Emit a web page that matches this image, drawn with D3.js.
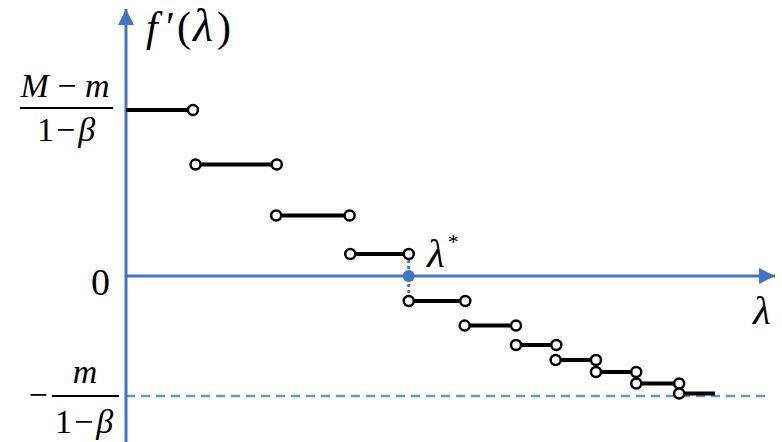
<!DOCTYPE html>
<html>
<head>
<meta charset="utf-8">
<script src="https://cdn.jsdelivr.net/npm/d3@7"></script>
<style>
  html, body { margin: 0; padding: 0; background: #fff; }
  svg { display: block; }
</style>
</head>
<body>
<svg id="chart" width="782" height="442"></svg>
<script>
// Piecewise-constant derivative f'(λ): each step has a start, an end and a level.
const stepStart = [0.00, 1.07, 2.31, 3.45, 4.35, 5.21, 6.00, 6.61, 7.23, 7.85, 8.51];
const stepEnd   = [1.03, 2.32, 3.44, 4.35, 5.22, 6.00, 6.62, 7.23, 7.85, 8.51, 9.06];
const stepLevel = [1.383, 0.929, 0.504, 0.183, -0.208, -0.413, -0.575, -0.700, -0.800, -0.896, -0.979];

// Reference levels on the vertical axis
const upperLevel = 1.383;   // (M − m)/(1 − β)
const lowerLevel = -1;      // −m/(1 − β)
const lambdaStar = 4.35;

const svg = d3.select("#chart");
const x = d3.scaleLinear().domain([0, 10]).range([126, 776]);
const y = d3.scaleLinear().domain([-1.4, 2.2]).range([444, 12]);

const axisBlue = "#4472C4";
const dashBlue = "#5B9BD5";
const serif = '"Liberation Serif"';

const defs = svg.append("defs");
defs.append("marker")
  .attr("id", "arrow")
  .attr("viewBox", "0 0 10 10")
  .attr("refX", 10).attr("refY", 5)
  .attr("markerUnits", "userSpaceOnUse")
  .attr("markerWidth", 17).attr("markerHeight", 16)
  .attr("orient", "auto")
  .append("path")
  .attr("d", "M0,0 L10,5 L0,10 Z")
  .attr("fill", axisBlue);

// dashed lower bound
svg.append("line")
  .attr("x1", x(0)).attr("x2", x(9.85))
  .attr("y1", y(lowerLevel)).attr("y2", y(lowerLevel))
  .attr("stroke", dashBlue).attr("stroke-width", 2.5)
  .attr("stroke-dasharray", "9,6");

// axes
svg.append("line")
  .attr("x1", x(0)).attr("x2", x(10) - 1)
  .attr("y1", y(0)).attr("y2", y(0))
  .attr("stroke", axisBlue).attr("stroke-width", 3)
  .attr("marker-end", "url(#arrow)");
svg.append("line")
  .attr("x1", x(0)).attr("x2", x(0))
  .attr("y1", y(-1.4)).attr("y2", y(2.2) - 3)
  .attr("stroke", axisBlue).attr("stroke-width", 3)
  .attr("marker-end", "url(#arrow)");

// dotted drop at λ*
svg.append("line")
  .attr("x1", x(lambdaStar)).attr("x2", x(lambdaStar))
  .attr("y1", y(stepLevel[3])).attr("y2", y(stepLevel[4]))
  .attr("stroke", axisBlue).attr("stroke-width", 3)
  .attr("stroke-dasharray", "3,3");

const steps = stepStart.map((s, i) => ({ s, e: stepEnd[i], v: stepLevel[i], i }));
const n = steps.length;

svg.append("g").selectAll("line").data(steps).join("line")
  .attr("x1", d => x(d.s)).attr("x2", d => x(d.e))
  .attr("y1", d => y(d.v)).attr("y2", d => y(d.v))
  .attr("stroke", "#000").attr("stroke-width", 4);

// open end points (none at the axis start nor at the final step's end)
const ends = [];
steps.forEach(d => {
  if (d.i > 0) ends.push({ px: d.s, v: d.v });
  if (d.i < n - 1) ends.push({ px: d.e, v: d.v });
});
svg.append("g").selectAll("circle").data(ends).join("circle")
  .attr("cx", d => x(d.px)).attr("cy", d => y(d.v))
  .attr("r", 5)
  .attr("fill", "#fff").attr("stroke", "#000").attr("stroke-width", 2.5);

// λ* on the axis
svg.append("circle")
  .attr("cx", x(lambdaStar)).attr("cy", y(0)).attr("r", 6)
  .attr("fill", axisBlue);

// labels
function label(px, py, size, anchor) {
  return svg.append("text")
    .attr("x", px).attr("y", py)
    .style("font-family", serif)
    .style("font-size", size + "px")
    .attr("text-anchor", anchor || "start")
    .attr("fill", "#000");
}
const it = sel => sel.style("font-style", "italic");

const fx = label(146, 41, 42);
it(fx.append("tspan")).attr("x", 146).text("f");
fx.append("tspan").attr("x", 166).text("′");
fx.append("tspan").attr("x", 177).text("(");
it(fx.append("tspan")).attr("x", 193).style("font-size", "46px").text("λ");
fx.append("tspan").attr("x", 217).text(")");

it(label(753, 324, 41)).text("λ");

const ls = label(427, 267, 41);
it(ls.append("tspan")).text("λ");
ls.append("tspan").style("font-size", "22px").attr("dx", 3).attr("dy", -18).text("*");

label(110, y(0) + 19, 38, "end").text("0");

// (M − m)/(1 − β)
const uy = y(upperLevel);
svg.append("line").attr("x1", 20).attr("x2", 113).attr("y1", uy - 2).attr("y2", uy - 2)
  .attr("stroke", "#000").attr("stroke-width", 2);
const num = label(65, uy - 13, 34, "middle");
it(num.append("tspan")).text("M");
num.append("tspan").text(" − ");
it(num.append("tspan")).text("m");
const den = label(66, uy + 31, 34, "middle");
den.append("tspan").text("1");
den.append("tspan").attr("dx", 2).text("−");
it(den.append("tspan")).attr("dx", 3).text("β");

// −m/(1 − β)
const ly = y(lowerLevel);
label(38, ly + 10, 34, "middle").text("−");
svg.append("line").attr("x1", 52).attr("x2", 119).attr("y1", ly).attr("y2", ly)
  .attr("stroke", "#000").attr("stroke-width", 2);
it(label(85, ly - 13, 34, "middle")).text("m");
const den2 = label(84, ly + 37, 34, "middle");
den2.append("tspan").text("1");
den2.append("tspan").attr("dx", 2).text("−");
it(den2.append("tspan")).attr("dx", 3).text("β");
</script>
</body>
</html>
